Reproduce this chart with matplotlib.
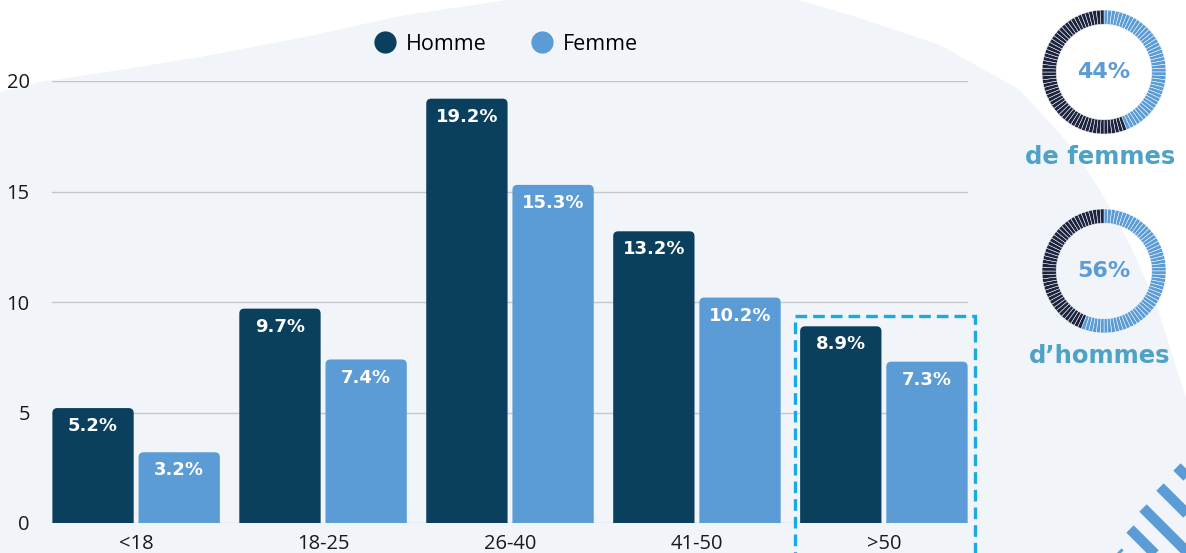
import numpy as np
import matplotlib
matplotlib.use('Agg')
import matplotlib.pyplot as plt
from matplotlib.patches import Polygon, FancyBboxPatch, Rectangle
from matplotlib.lines import Line2D

# data
categories = ['<18', '18-25', '26-40', '41-50', '>50']
homme = [5.2, 9.7, 19.2, 13.2, 8.9]
femme = [3.2, 7.4, 15.3, 10.2, 7.3]
donut_values = [44, 56]
donut_labels = ['de femmes', 'd\u2019hommes']

DARK = '#0a3f5e'
LIGHT = '#5b9bd6'
RING_DARK = '#1d2440'
TEAL = '#4ea2c6'
BG = '#f1f5f9'

W, H = 1186, 553
plt.rcParams['font.family'] = ['Open Sans', 'DejaVu Sans']

fig = plt.figure(figsize=(W / 100, H / 100), dpi=100)
fig.patch.set_facecolor('white')

def px(x, y):
    # pixel coords (top-left origin) -> figure fraction
    return (x / W, 1 - y / H)

# background blob
blob = [(0, 92), (40, 82), (120, 70), (200, 57), (300, 38), (400, 16), (480, 4), (540, -5),
        (780, -5), (850, 15), (940, 45), (1020, 90), (1070, 145), (1100, 190),
        (1130, 245), (1155, 300), (1177, 370), (1190, 410), (1190, 560), (0, 560)]
fig.patches.append(Polygon([px(*p) for p in blob], closed=True, transform=fig.transFigure,
                           facecolor=BG, edgecolor='none', zorder=-2))

# stripes bottom right
for sx, sy in [(1177, 467), (1160, 487), (1143, 508), (1130, 529), (1118, 552)]:
    fig.lines.append(Line2D([sx / W, (sx + 60) / W], [1 - sy / H, 1 - (sy + 60) / H],
                            transform=fig.transFigure, color=LIGHT, lw=7.5,
                            solid_capstyle='butt', zorder=-1))

ax = fig.add_axes([52 / W, 30 / H, 916 / W, 442 / H])
ax.set_facecolor('none')
x = np.arange(len(categories))
bw = 0.435
off = 0.2305

px_per_x = 916 / 4.9
px_per_y = 442 / 20
r_x = 5 / px_per_x
aspect = (5 / px_per_y) / r_x

for vals, sign, color in [(homme, -1, DARK), (femme, 1, LIGHT)]:
    for xi, v in zip(x, vals):
        left = xi + sign * off - bw / 2
        p = FancyBboxPatch((left, -1), bw, v + 1,
                           boxstyle=f'round,pad=0,rounding_size={r_x}',
                           mutation_aspect=aspect, facecolor=color,
                           edgecolor='none', zorder=3)
        ax.add_patch(p)
        ax.text(xi + sign * off, v - 0.82, f'{v}%', ha='center', va='center',
                color='white', fontsize=13, fontweight='bold',
                family=['DejaVu Sans'], zorder=4)

ax.set_xlim(-0.45, 4.45)
ax.set_ylim(0, 20)
ax.set_yticks([0, 5, 10, 15, 20])
ax.set_xticks(x)
ax.set_xticklabels(categories)
ax.grid(axis='y', color='#c4c7cc', lw=1, zorder=0)
ax.set_axisbelow(True)
for s in ax.spines.values():
    s.set_visible(False)
ax.tick_params(length=0, labelsize=14.5, colors='#1a1a1a', pad=8)
ax.tick_params(axis='y', pad=16)

# legend
leg_handles = [Line2D([], [], marker='o', ls='none', color=DARK, markersize=15),
               Line2D([], [], marker='o', ls='none', color=LIGHT, markersize=15)]
fig.legend(leg_handles, ['Homme', 'Femme'], loc='center', ncol=2,
           bbox_to_anchor=(505 / W, 1 - 44 / H), frameon=False, fontsize=15.5,
           handletextpad=0.35, columnspacing=2.0, handlelength=1.2)

# dashed highlight box
fig.patches.append(Rectangle(px(795, 560), 180 / W, 244 / H, transform=fig.transFigure,
                             fill=False, edgecolor='#1ba9e1', lw=2.4,
                             linestyle=(0, (3.5, 1.8)), zorder=5))

# donuts
for i, (val, lab) in enumerate(zip(donut_values, donut_labels)):
    cy = 72 + i * 199
    dax = fig.add_axes([(1104 - 62) / W, 1 - (cy + 62) / H, 124 / W, 124 / H])
    dax.set_facecolor('none')
    n = 100
    cols = [LIGHT if k < val else RING_DARK for k in range(n)]
    dax.pie([1] * n, colors=cols, startangle=90, counterclock=False,
            wedgeprops=dict(width=0.23, edgecolor='white', linewidth=0.35))
    dax.set_xlim(-1, 1)
    dax.set_ylim(-1, 1)
    dax.set_aspect('equal')
    dax.text(0, 0, f'{val}%', ha='center', va='center', color=LIGHT,
             fontsize=16, fontweight='bold', family=['DejaVu Sans'])
    fig.text(1100 / W, 1 - (cy + 85) / H, lab, ha='center', va='center',
             color=TEAL, fontsize=17.5, fontweight='bold',
             family=['DejaVu Sans'])

fig.savefig('out.png', dpi=100)
